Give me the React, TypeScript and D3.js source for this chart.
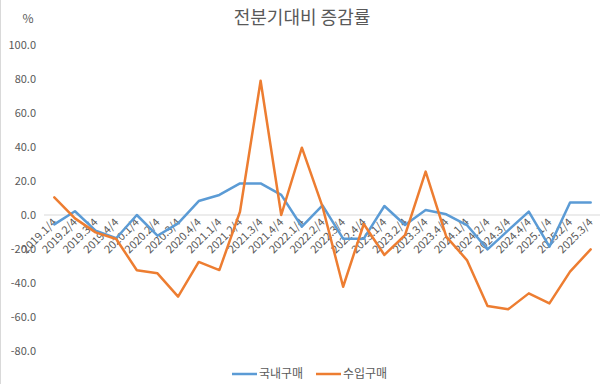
import * as d3 from "d3";

// 분기 라벨
const quarters = [
  "2019.1/4", "2019.2/4", "2019.3/4", "2019.4/4",
  "2020.1/4", "2020.2/4", "2020.3/4", "2020.4/4",
  "2021.1/4", "2021.2/4", "2021.3/4", "2021.4/4",
  "2022.1/4", "2022.2/4", "2022.3/4", "2022.4/4",
  "2023.1/4", "2023.2/4", "2023.3/4", "2023.4/4",
  "2024.1/4", "2024.2/4", "2024.3/4", "2024.4/4",
  "2025.1/4", "2025.2/4", "2025.3/4",
];

// 국내구매
const domestic = [
  -5.5, 2.2, -9.2, -13.7, 0.0, -12.2, -4.9, 8.2, 11.8, 18.6, 18.6, 11.8,
  -6.9, 5.7, -13.9, -13.9, 5.3, -5.9, 2.9, 0.4, -5.9, -20.2, -9.0, 2.0,
  -18.6, 7.4, 7.4,
];

// 수입구매
const imported = [
  10.4, -2.0, -10.2, -14.1, -32.5, -34.3, -48.0, -27.6, -32.4, 1.9, 79.0, 0.0,
  39.6, 4.9, -42.2, -5.3, -23.5, -11.8, 25.5, -12.7, -26.5, -53.5, -55.5, -46.1,
  -52.0, -33.3, -20.2,
];

const yTicks = [100, 80, 60, 40, 20, 0, -20, -40, -60, -80];

const series = [
  { name: "국내구매", values: domestic, color: "#5B9BD5" },
  { name: "수입구매", values: imported, color: "#ED7D31" },
];

const W = 600, H = 384;
const font = "'Noto Sans CJK KR', 'Noto Sans', sans-serif";
const textColor = "#595959";

export default function App() {
  const x = d3.scalePoint<string>().domain(quarters).range([44, 601]).padding(0.5);
  const y = d3.scaleLinear().domain([-80, 100]).range([351, 45]);

  const line = d3
    .line<number>()
    .x((_, i) => x(quarters[i]) as number)
    .y((d) => y(d));

  return (
    <svg
      width={W}
      height={H}
      style={{ position: "absolute", left: 0, top: 0, background: "#fff" }}
      fontFamily={font}
    >
      <rect width={W} height={H} fill="#fff" />
      <line x1={0.5} x2={0.5} y1={0} y2={H} stroke="#d9d9d9" />

      {/* title */}
      <text x={302} y={24} textAnchor="middle" fontSize={18} fill={textColor}>
        전분기대비 증감률
      </text>
      <text x={28} y={23} textAnchor="middle" fontSize={12} fill={textColor}>
        %
      </text>

      {/* y axis labels */}
      {yTicks.map((t) => (
        <text
          key={t}
          x={36}
          y={y(t)}
          dy="0.35em"
          textAnchor="end"
          fontSize={11}
          fill={textColor}
        >
          {t.toFixed(1)}
        </text>
      ))}

      {/* zero line */}
      <line x1={44} x2={600} y1={y(0)} y2={y(0)} stroke="#d9d9d9" strokeWidth={1} />

      {/* x labels */}
      {quarters.map((q) => {
        const px = (x(q) as number) + 3;
        const py = y(0) + 8;
        return (
          <text
            key={q}
            x={px}
            y={py}
            textAnchor="end"
            fontSize={11}
            fill={textColor}
            transform={`rotate(-45 ${px} ${py})`}
          >
            {q}
          </text>
        );
      })}

      {/* lines */}
      {series.map((s) => (
        <path
          key={s.name}
          d={line(s.values) ?? ""}
          fill="none"
          stroke={s.color}
          strokeWidth={2.5}
          strokeLinejoin="round"
          strokeLinecap="round"
        />
      ))}

      {/* legend */}
      {series.map((s, i) => {
        const lx = 232 + i * 84;
        return (
          <g key={s.name}>
            <line x1={lx} x2={lx + 25} y1={374} y2={374} stroke={s.color} strokeWidth={2.5} />
            <text x={lx + 27} y={374} dy="0.35em" fontSize={12} fill={textColor}>
              {s.name}
            </text>
          </g>
        );
      })}
    </svg>
  );
}
